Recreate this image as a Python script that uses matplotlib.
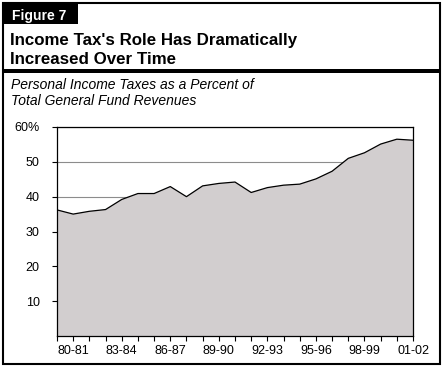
import numpy as np
import matplotlib
matplotlib.use("Agg")
import matplotlib.pyplot as plt
from matplotlib.patches import Rectangle

plt.rcParams['font.family'] = ['Liberation Sans', 'DejaVu Sans']

# --- data ---
years = ["79-80", "80-81", "81-82", "82-83", "83-84", "84-85", "85-86", "86-87",
         "87-88", "88-89", "89-90", "90-91", "91-92", "92-93", "93-94", "94-95",
         "95-96", "96-97", "97-98", "98-99", "99-00", "00-01", "01-02"]
pit_share = [36.2, 35.0, 35.8, 36.3, 39.2, 40.9, 40.9, 42.9,
             40.0, 43.1, 43.8, 44.2, 41.2, 42.6, 43.3, 43.6,
             45.1, 47.3, 51.0, 52.6, 55.1, 56.5, 56.2]
yticks = [10, 20, 30, 40, 50, 60]
ytick_labels = ["10", "20", "30", "40", "50", "60%"]

W, H = 445, 368
fig = plt.figure(figsize=(W / 100, H / 100), dpi=100)

# --- frame, figure tab, heading ---
def px(x, y):
    return x / W, 1 - y / H

fig.patches.append(Rectangle(px(3, 364), 437 / W, 361 / H, transform=fig.transFigure,
                             fill=False, edgecolor="black", linewidth=1.5))
fig.patches.append(Rectangle(px(3, 24), 75 / W, 21 / H, transform=fig.transFigure,
                             facecolor="black", edgecolor="none"))
fig.patches.append(Rectangle(px(3, 73), 437 / W, 4.5 / H, transform=fig.transFigure,
                             facecolor="black", edgecolor="none"))

fig.text(*px(11.5, 20), "Figure 7", color="white", fontsize=10, fontweight="bold")
fig.text(*px(10.5, 45), "Income Tax's Role Has Dramatically", fontsize=12.2,
         fontweight="bold")
fig.text(*px(10.5, 64), "Increased Over Time", fontsize=12.2, fontweight="bold")
fig.text(*px(11, 89), "Personal Income Taxes as a Percent of", fontsize=10,
         style="italic")
fig.text(*px(11, 105), "Total General Fund Revenues", fontsize=10, style="italic")

# --- chart ---
ax = fig.add_axes([57 / W, 1 - 336 / H, 356 / W, 209 / H])
x = np.arange(len(years))
ax.fill_between(x, pit_share, 0, facecolor="#d2cecf", edgecolor="none", zorder=2)
ax.plot(x, pit_share, color="black", linewidth=0.9, zorder=3)

ax.set_xlim(0, len(years) - 1)
ax.set_ylim(0, 60)
ax.set_yticks(yticks)
ax.set_yticklabels(ytick_labels)
ax.set_xticks(x)
ax.set_xticklabels([y if i % 3 == 1 else "" for i, y in enumerate(years)])
ax.tick_params(axis="both", direction="out", length=3.5, width=0.8,
               labelsize=9, pad=3)
ax.tick_params(axis="y", pad=9)
ax.yaxis.grid(True, color="#8c8c8c", linewidth=0.8, zorder=1)
ax.set_axisbelow(True)
for s in ax.spines.values():
    s.set_linewidth(0.9)
    s.set_zorder(4)

fig.savefig("out.png", dpi=100)
